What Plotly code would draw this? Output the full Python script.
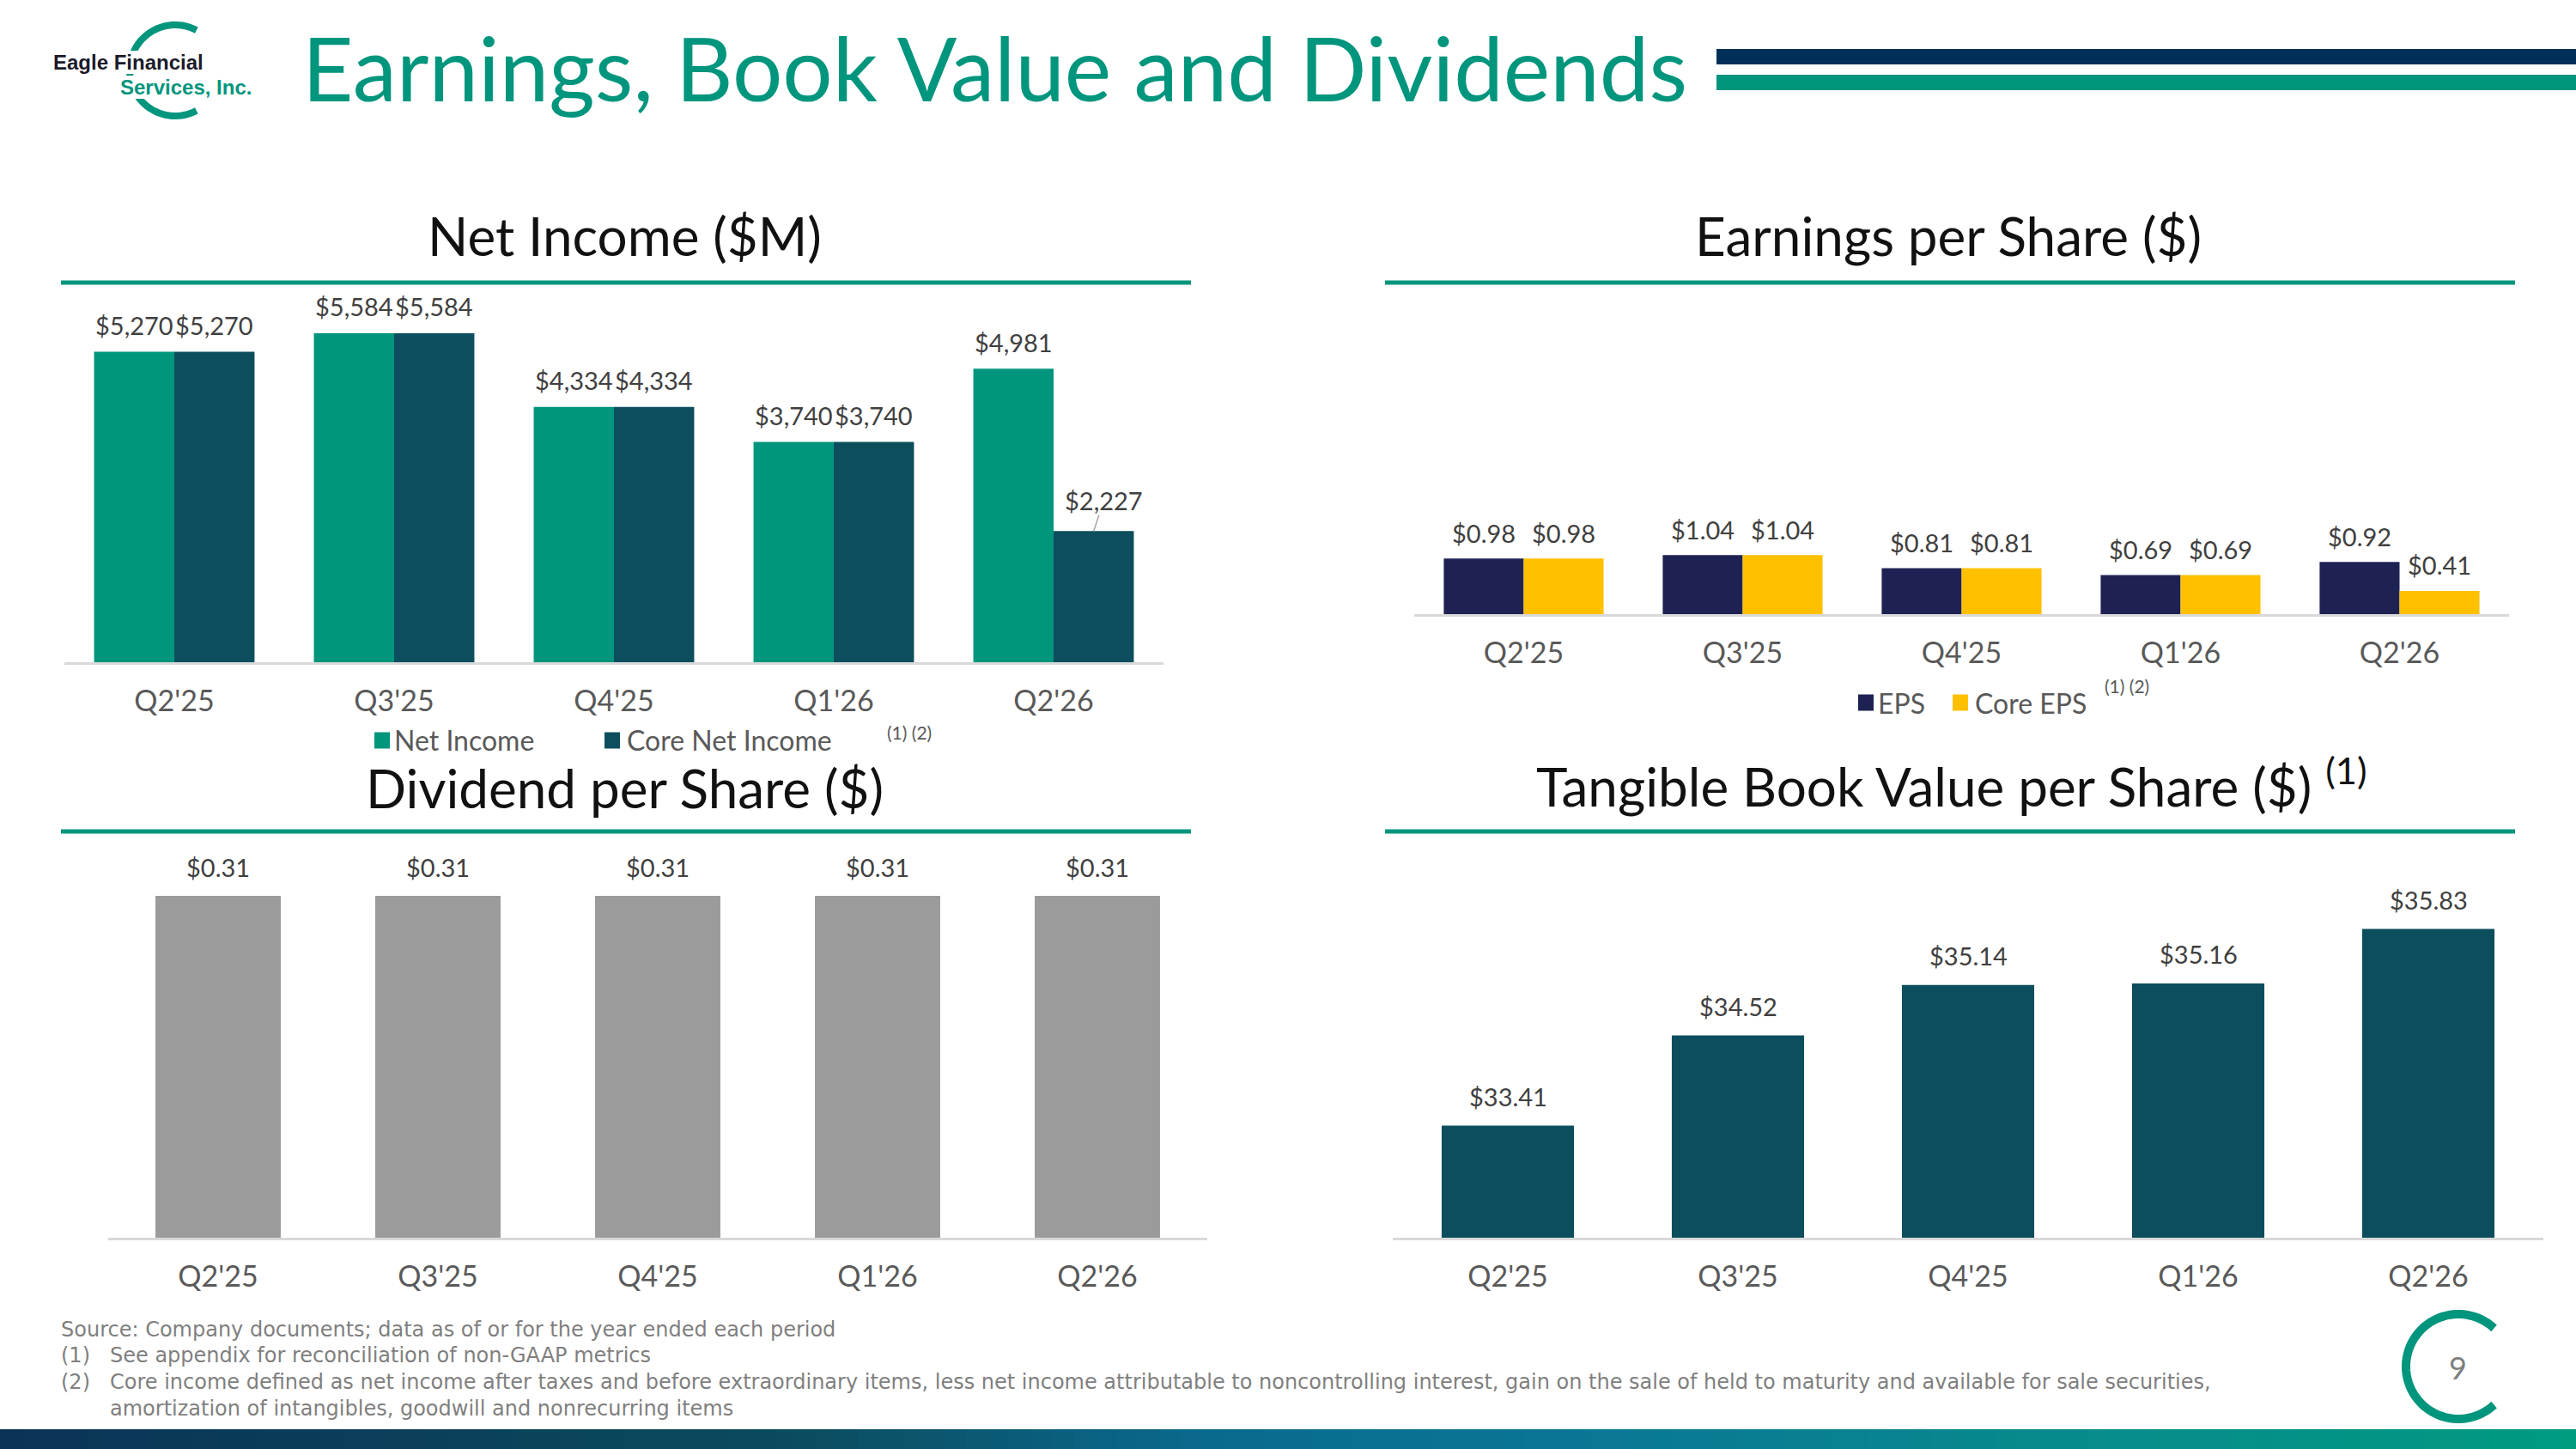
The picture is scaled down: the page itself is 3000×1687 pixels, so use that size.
import math
import plotly.graph_objects as go

W, H = 3000, 1687


def px(x):
    return x / W


def py(y):
    return 1 - y / H


# ---------------- data ----------------
quarters = ["Q2'25", "Q3'25", "Q4'25", "Q1'26", "Q2'26"]
net_income = [5270, 5584, 4334, 3740, 4981]
core_net_income = [5270, 5584, 4334, 3740, 2227]
eps = [0.98, 1.04, 0.81, 0.69, 0.92]
core_eps = [0.98, 1.04, 0.81, 0.69, 0.41]
dividend_per_share = [0.31, 0.31, 0.31, 0.31, 0.31]
tangible_book_value = [33.41, 34.52, 35.14, 35.16, 35.83]

ni_series = ["Net Income", "Core Net Income"]
eps_series = ["EPS", "Core EPS"]
note_mark = "(1) (2)"

slide_title = "Earnings, Book Value and Dividends"
panel_titles = ["Net Income ($M)", "Earnings per Share ($)",
                "Dividend per Share ($)", "Tangible Book Value per Share ($) <sup>(1)</sup>"]
footnotes = [
    ("", "Source: Company documents; data as of or for the year ended each period"),
    ("(1)", "See appendix for reconciliation of non-GAAP metrics"),
    ("(2)", "Core income defined as net income after taxes and before extraordinary items, less net income "
            "attributable to noncontrolling interest, gain on the sale of held to maturity and available for sale securities,"),
    ("", "amortization of intangibles, goodwill and nonrecurring items"),
]

# ---------------- style ----------------
TEAL = "#00957D"
DARK_TEAL = "#0C4E5D"
NAVY = "#1E2253"
YELLOW = "#FFC000"
GRAY_BAR = "#9B9B9C"
TEXT_GRAY = "#595959"
LABEL_GRAY = "#404040"
FONT = "Lato, 'Open Sans', sans-serif"
FN_FONT = "'DejaVu Sans', 'Open Sans', sans-serif"

TICK_SIZE = 34
LABEL_SIZE = 29
TITLE_SIZE = 62
LEGEND_SIZE = 32
GROUP_GAP = 0.27
SINGLE_W = 0.57

# panel geometry: x-domain px, baseline px, top px, px per unit, y min
panels = [
    dict(xd=(75, 1355), base=771, top=339, ppu=0.0686, ymin=0),
    dict(xd=(1647, 2922), base=715, top=352, ppu=66.0, ymin=0),
    dict(xd=(126, 1406), base=1441, top=990, ppu=1284.0, ymin=0),
    dict(xd=(1622, 2962), base=1441, top=990, ppu=94.6, ymin=32.03),
]

fig = go.Figure()

fig.add_trace(go.Bar(x=quarters, y=net_income, name=ni_series[0], marker_color=TEAL,
                     marker_line_width=0, xaxis="x", yaxis="y"))
fig.add_trace(go.Bar(x=quarters, y=core_net_income, name=ni_series[1], marker_color=DARK_TEAL,
                     marker_line_width=0, xaxis="x", yaxis="y"))
fig.add_trace(go.Bar(x=quarters, y=eps, name=eps_series[0], marker_color=NAVY,
                     marker_line_width=0, xaxis="x2", yaxis="y2"))
fig.add_trace(go.Bar(x=quarters, y=core_eps, name=eps_series[1], marker_color=YELLOW,
                     marker_line_width=0, xaxis="x2", yaxis="y2"))
fig.add_trace(go.Bar(x=quarters, y=dividend_per_share, name="Dividend", marker_color=GRAY_BAR,
                     marker_line_width=0, width=SINGLE_W, offset=-SINGLE_W / 2,
                     xaxis="x3", yaxis="y3"))
fig.add_trace(go.Bar(x=quarters, y=tangible_book_value, name="TBV", marker_color=DARK_TEAL,
                     marker_line_width=0, width=0.575, offset=-0.575 / 2,
                     xaxis="x4", yaxis="y4"))

layout_axes = {}
for i, p in enumerate(panels):
    sfx = "" if i == 0 else str(i + 1)
    ymax = p["ymin"] + (p["base"] - p["top"]) / p["ppu"]
    layout_axes["xaxis" + sfx] = dict(
        domain=[px(p["xd"][0]), px(p["xd"][1])], anchor="y" + sfx, type="category",
        showline=True, linecolor="#D9D9D9", linewidth=3, showgrid=False, zeroline=False,
        ticks="outside", ticklen=13, tickcolor="rgba(0,0,0,0)",
        tickfont=dict(family=FONT, size=TICK_SIZE, color=TEXT_GRAY), fixedrange=True)
    layout_axes["yaxis" + sfx] = dict(
        domain=[py(p["base"]), py(p["top"])], anchor="x" + sfx, range=[p["ymin"], ymax],
        visible=False, fixedrange=True)

annotations = []
shapes = []


def note(x, y, text, size, color, family=FONT, xanchor="left", **kw):
    d = dict(x=px(x), y=py(y), xref="paper", yref="paper", text=text, showarrow=False,
             xanchor=xanchor, yanchor="middle", borderpad=0, borderwidth=0,
             font=dict(family=family, size=size, color=color))
    d.update(kw)
    annotations.append(d)


def bar_shift(p, k, n):
    cat_px = (p["xd"][1] - p["xd"][0]) / len(quarters)
    if n == 1:
        return 0
    bw = cat_px * (1 - GROUP_GAP) / n
    return (k - (n - 1) / 2) * bw


def add_labels(idx, values, fmt, k, n, yshift, leader_last=False):
    p = panels[idx]
    sfx = "" if idx == 0 else str(idx + 1)
    xs = bar_shift(p, k, n)
    for j, (q, v) in enumerate(zip(quarters, values)):
        a = dict(x=q, y=v, xref="x" + sfx, yref="y" + sfx, text=fmt(v),
                 font=dict(family=FONT, size=LABEL_SIZE, color=LABEL_GRAY),
                 xshift=xs, showarrow=False, xanchor="center", yanchor="middle", yshift=yshift,
                 borderpad=0, borderwidth=0)
        if leader_last and j == len(values) - 1:
            a.update(showarrow=True, arrowhead=0, arrowwidth=1.5, arrowcolor="#A6A6A6",
                     ax=12, ay=-36, yshift=0, standoff=0)
        annotations.append(a)


money0 = lambda v: "${:,.0f}".format(v)
money2 = lambda v: "${:,.2f}".format(v)
add_labels(0, net_income, money0, 0, 2, 31)
add_labels(0, core_net_income, money0, 1, 2, 31, leader_last=True)
add_labels(1, eps, money2, 0, 2, 30)
add_labels(1, core_eps, money2, 1, 2, 30)
add_labels(2, dividend_per_share, money2, 0, 1, 33)
add_labels(3, tangible_book_value, money2, 0, 1, 34)

# panel titles and underline rules
title_pos = [(727, 274), (2269, 274), (727, 917), (2272, 911)]
for t, (cx, cy) in zip(panel_titles, title_pos):
    note(cx, cy, t, TITLE_SIZE, "#111111", xanchor="center")
for (x0, x1, y) in [(71, 1387, 329), (1613, 2929, 329), (71, 1387, 968), (1613, 2929, 968)]:
    shapes.append(dict(type="rect", xref="paper", yref="paper", x0=px(x0), x1=px(x1),
                       y0=py(y + 2.5), y1=py(y - 2.5), fillcolor=TEAL, line_width=0))


# legends (manual)
def legend_item(x_sq, y_c, color, text_x, text):
    shapes.append(dict(type="rect", xref="paper", yref="paper", x0=px(x_sq), x1=px(x_sq + 18),
                       y0=py(y_c + 9.5), y1=py(y_c - 9.5), fillcolor=color, line_width=0))
    note(text_x, y_c, text, LEGEND_SIZE, TEXT_GRAY)


legend_item(436, 862, TEAL, 459, ni_series[0])
legend_item(704, 862, DARK_TEAL, 730, ni_series[1])
note(1033, 852, note_mark, 21, TEXT_GRAY)
legend_item(2164, 818, NAVY, 2187, eps_series[0])
legend_item(2274, 818, YELLOW, 2300, eps_series[1])
note(2451, 798, note_mark, 21, TEXT_GRAY)

# slide title
note(352, 78, slide_title, 103, TEAL)
# header rules
shapes.append(dict(type="rect", xref="paper", yref="paper", x0=px(1999), x1=1,
                   y0=py(75), y1=py(57), fillcolor="#00305A", line_width=0))
shapes.append(dict(type="rect", xref="paper", yref="paper", x0=px(1999), x1=1,
                   y0=py(105), y1=py(87), fillcolor=TEAL, line_width=0))


# logo
def arc_path(cx, cy, r, a0, a1, n=60):
    pts = []
    for i in range(n + 1):
        a = math.radians(a0 + (a1 - a0) * i / n)
        pts.append((px(cx + r * math.cos(a)), py(cy - r * math.sin(a))))
    return "M " + " L ".join("{:.5f},{:.5f}".format(x, y) for x, y in pts)


shapes.append(dict(type="path", xref="paper", yref="paper", path=arc_path(204, 82, 53, 62, 298),
                   line=dict(color=TEAL, width=8)))
LOGO_FONT = "'Liberation Sans', Arial, sans-serif"
note(62, 73, "<b>Eagle Financial</b>", 24, "#1B1B2B", family=LOGO_FONT, bgcolor="white")
note(140, 101, "<b>Services, Inc.</b>", 24, TEAL, family=LOGO_FONT, bgcolor="white")

# page number ring
shapes.append(dict(type="path", xref="paper", yref="paper", path=arc_path(2863, 1591, 61, 47, 313),
                   line=dict(color=TEAL, width=10)))
note(2862, 1592, "9", 36, "#7F7F7F", xanchor="center")

# footnotes
fn_y = [1548, 1578, 1609, 1640]
for idx, ((mark, txt), y) in enumerate(zip(footnotes, fn_y)):
    if mark:
        note(71, y, mark, 24, "#7F7F7F", family=FN_FONT)
    note(71 if idx == 0 else 128, y, txt, 24, "#7F7F7F", family=FN_FONT)

# bottom gradient bar
stops = [(0.0, (10, 51, 88)), (0.3, (11, 74, 92)), (0.47, (10, 106, 142)), (0.6, (10, 117, 150)),
         (0.8, (7, 138, 140)), (1.0, (0, 154, 128))]


def grad(t):
    for (t0, c0), (t1, c1) in zip(stops[:-1], stops[1:]):
        if t0 <= t <= t1:
            f = (t - t0) / (t1 - t0)
            return "rgb({},{},{})".format(*[round(a + (b - a) * f) for a, b in zip(c0, c1)])
    return "rgb(0,154,128)"


NSEG = 120
for i in range(NSEG):
    shapes.append(dict(type="rect", xref="paper", yref="paper", x0=i / NSEG, x1=(i + 1) / NSEG + 0.001,
                       y0=0, y1=py(1664), fillcolor=grad((i + 0.5) / NSEG), line_width=0))

fig.update_layout(
    width=W, height=H, margin=dict(l=0, r=0, t=0, b=0, pad=0),
    paper_bgcolor="white", plot_bgcolor="rgba(0,0,0,0)",
    barmode="group", bargap=GROUP_GAP, bargroupgap=0, showlegend=False,
    annotations=annotations, shapes=shapes, **layout_axes)

fig.write_html("out.html")
